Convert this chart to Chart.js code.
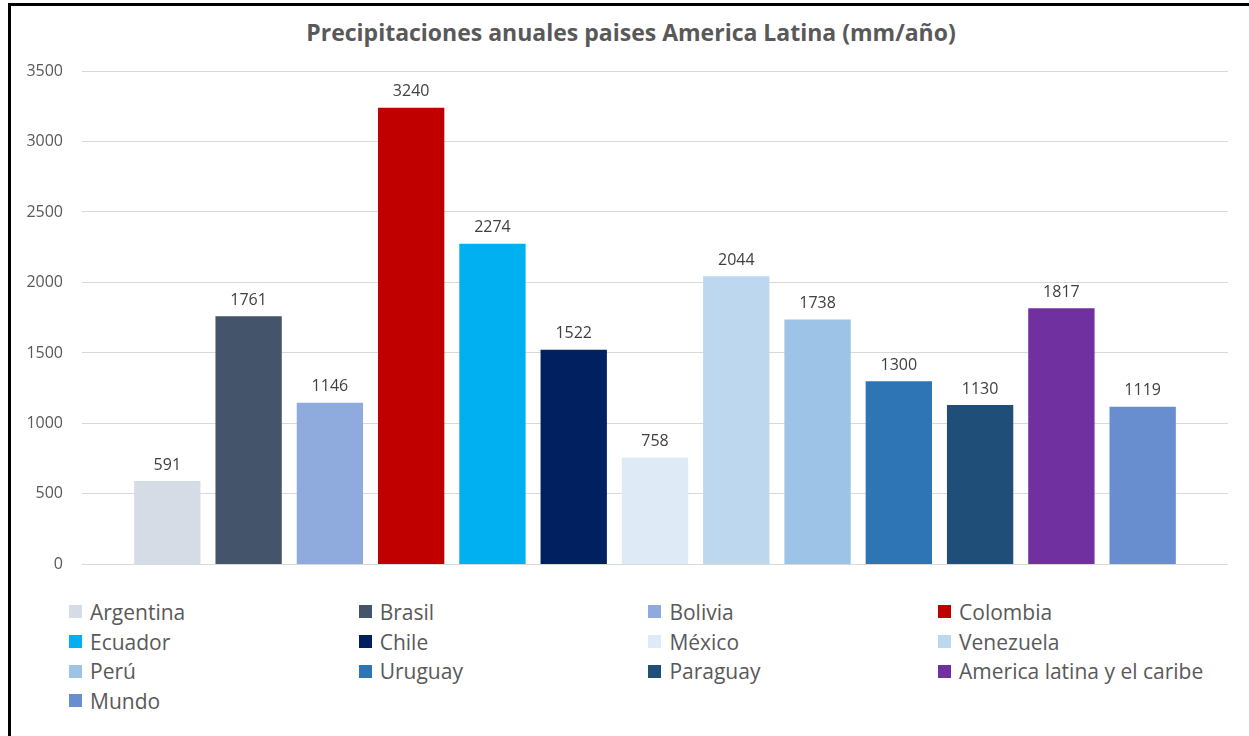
<!DOCTYPE html>
<html>
<head>
<meta charset="utf-8">
<script src="https://cdn.jsdelivr.net/npm/chart.js@4.4.1/dist/chart.umd.min.js"></script>
<style>
  html, body { margin: 0; padding: 0; background: #fff; }
  body { width: 1249px; height: 736px; position: relative; overflow: hidden; font-family: 'Open Sans', sans-serif; }
  #frame { position: absolute; left: 8px; top: 3px; width: 1300px; height: 800px; border-top: 3px solid #000; border-left: 3px solid #000; }
  #rainChart { position: absolute; left: 0; top: 0; }
  #title { position: absolute; left: 0; width: 1262px; top: 16px; text-align: center; font-size: 23px; font-weight: bold; color: #595959; }
  #legend { position: absolute; left: 69px; top: 597px; display: grid; grid-template-columns: repeat(4, 289.7px); grid-auto-rows: 29.7px; }
  .item { display: flex; align-items: center; font-size: 21px; color: #595959; white-space: nowrap; }
  .swatch { width: 13px; height: 13px; margin-right: 8px; flex: none; }
</style>
</head>
<body>
<div id="frame"></div>
<div id="title">Precipitaciones anuales paises America Latina (mm/año)</div>
<canvas id="rainChart" width="1249" height="593"></canvas>
<div id="legend"></div>
<script>
const countries = ['Argentina', 'Brasil', 'Bolivia', 'Colombia', 'Ecuador', 'Chile', 'México', 'Venezuela', 'Perú', 'Uruguay', 'Paraguay', 'America latina y el caribe', 'Mundo'];
const rainfall = [591, 1761, 1146, 3240, 2274, 1522, 758, 2044, 1738, 1300, 1130, 1817, 1119];
const barColors = ['#D6DCE5', '#44546A', '#8FAADC', '#C00000', '#00B0F0', '#002060', '#DEEBF7', '#BDD7EE', '#9DC3E6', '#2E75B6', '#1F4E79', '#7030A0', '#698ED0'];
const yTicks = [0, 500, 1000, 1500, 2000, 2500, 3000, 3500];

// valor encima de cada barra
const valueLabels = {
  id: 'valueLabels',
  afterDatasetsDraw(chart) {
    const { ctx } = chart;
    ctx.save();
    ctx.font = '16px "Open Sans"';
    ctx.fillStyle = '#404040';
    ctx.textAlign = 'center';
    ctx.textBaseline = 'bottom';
    chart.data.datasets.forEach((ds, i) => {
      const bar = chart.getDatasetMeta(i).data[0];
      ctx.fillText(String(ds.data[0]), bar.x, bar.y - 8);
    });
    ctx.restore();
  },
};

new Chart(document.getElementById('rainChart'), {
  type: 'bar',
  data: {
    labels: [''],
    datasets: countries.map((name, i) => ({
      label: name,
      data: [rainfall[i]],
      backgroundColor: barColors[i],
      borderWidth: 0,
      categoryPercentage: 0.922,
      barPercentage: 0.816,
    })),
  },
  options: {
    responsive: false,
    animation: false,
    layout: { padding: { left: 12, right: 21, top: 71, bottom: 20 } },
    plugins: { legend: { display: false }, title: { display: false }, tooltip: { enabled: false } },
    scales: {
      x: { display: false },
      y: {
        min: 0,
        max: 3500,
        afterFit: (scale) => { scale.width = 70; },
        afterBuildTicks: (scale) => { scale.ticks = yTicks.map((v) => ({ value: v })); },
        border: { display: false },
        grid: { color: '#D9D9D9', lineWidth: 1, drawTicks: false },
        ticks: { color: '#595959', font: { family: 'Open Sans', size: 16 }, padding: 19, callback: (v) => String(v) },
      },
    },
  },
  plugins: [valueLabels],
});

const legend = document.getElementById('legend');
countries.forEach((name, i) => {
  const item = document.createElement('div');
  item.className = 'item';
  item.innerHTML = `<span class="swatch" style="background:${barColors[i]}"></span><span>${name}</span>`;
  legend.appendChild(item);
});
</script>
</body>
</html>
